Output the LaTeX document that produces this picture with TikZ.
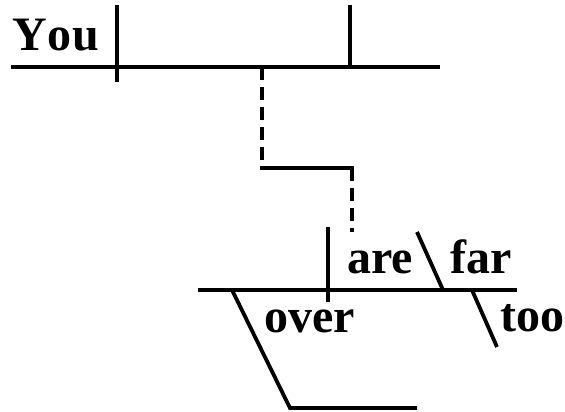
\documentclass[tikz,border=0pt]{standalone}
\usepackage{fontspec}
\setmainfont{Liberation Serif}
\begin{document}
\begin{tikzpicture}[x=1pt,y=-1pt,
  ln/.style={line width=3.8pt},
  dsh/.style={line width=3.8pt,dash pattern=on 13pt off 7pt},
  word/.style={anchor=base west,inner sep=0pt,font=\fontsize{48}{48}\selectfont\bfseries}]
\useasboundingbox (0,0) rectangle (565,412);
% main clause
\coordinate (m1) at (11,67);
\coordinate (m2) at (440,67);
\coordinate (s1) at (117,5);
\coordinate (s2) at (117,82);
\coordinate (v1) at (350,5);
\coordinate (v2) at (350,67);
\node[word] (you) at (12,51) {Y\kern1pt o\kern1pt u};
\draw[ln] (m1) -- (m2);
\draw[ln] (s1) -- (s2);
\draw[ln] (v1) -- (v2);
% connector to clause
\coordinate (c1) at (262,67);
\coordinate (c2) at (262,168);
\coordinate (c3) at (352,168);
\coordinate (c4) at (352,232);
\draw[dsh] (c1) -- (c2);
\draw[ln,line cap=rect] (c2) -- (c3);
\draw[dsh] (c3) -- (c4);
% subordinate clause
\coordinate (b1) at (198,290);
\coordinate (b2) at (517,290);
\coordinate (d1) at (328,227);
\coordinate (d2) at (328,302);
\draw[ln] (b1) -- (b2);
\draw[ln] (d1) -- (d2);
\node[word] (are) at (347,273) {are};
\coordinate (f1) at (417,232);
\coordinate (f2) at (443,290);
\draw[ln] (f1) -- (f2);
\node[word] (far) at (450,273) {far};
\coordinate (t1) at (472,290);
\coordinate (t2) at (497,347);
\draw[ln] (t1) -- (t2);
\node[word] (too) at (500,331) {too};
\coordinate (o1) at (232,290);
\coordinate (o2) at (290,408);
\coordinate (o3) at (417,408);
\draw[ln] (o1) -- (o2) -- (o3);
\node[word] (over) at (264,332) {over};
\end{tikzpicture}
\end{document}
